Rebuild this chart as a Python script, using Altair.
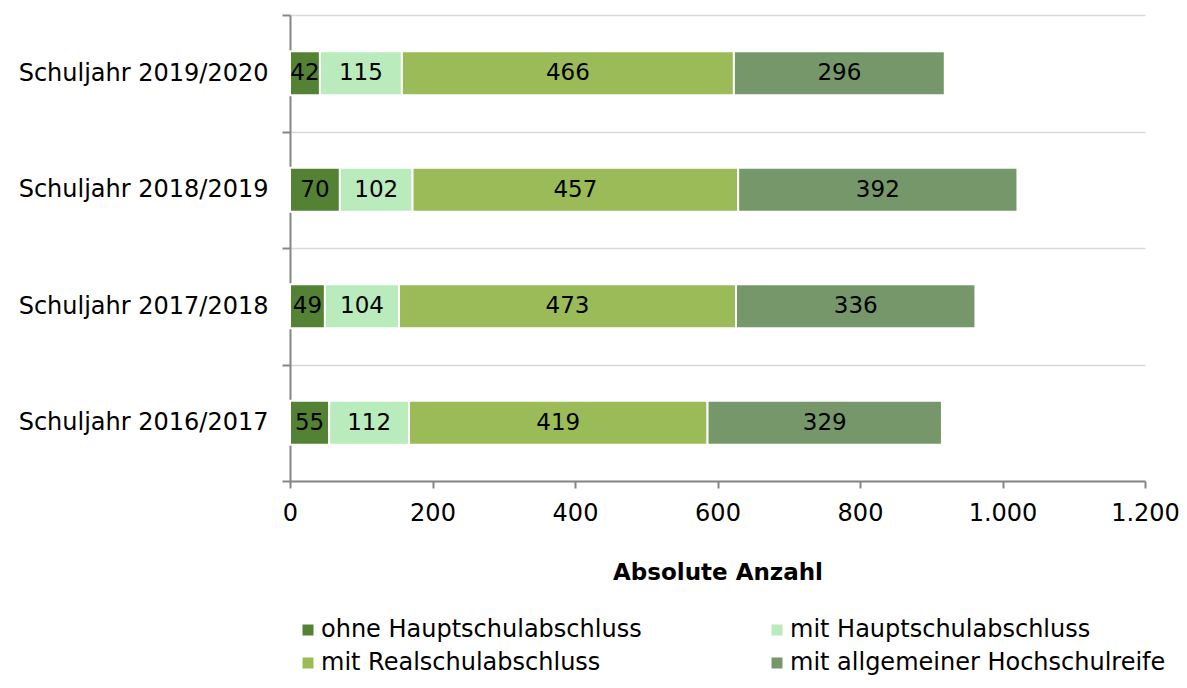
import altair as alt
import pandas as pd

years = ["Schuljahr 2019/2020", "Schuljahr 2018/2019", "Schuljahr 2017/2018", "Schuljahr 2016/2017"]
categories = ["ohne Hauptschulabschluss", "mit Hauptschulabschluss", "mit Realschulabschluss", "mit allgemeiner Hochschulreife"]
colors = ["#548235", "#BAEBBC", "#9BBB59", "#76976A"]

ohne = [42, 70, 49, 55]
haupt = [115, 102, 104, 112]
real = [466, 457, 473, 419]
hoch = [296, 392, 336, 329]

rows = []
for i, y in enumerate(years):
    for k, (cat, vals) in enumerate(zip(categories, [ohne, haupt, real, hoch])):
        rows.append({"year": y, "cat": cat, "value": vals[i], "order": k})
df = pd.DataFrame(rows)

# legend fills column by column: reorder so rows read left-to-right
legend_order = [categories[0], categories[2], categories[1], categories[3]]
legend_colors = [colors[0], colors[2], colors[1], colors[3]]

FONT = "DejaVu Sans"

base = alt.Chart(df).transform_stack(
    stack="value", as_=["x0", "x1"], groupby=["year"], sort=[alt.SortField("order")]
).transform_calculate(mid="(datum.x0 + datum.x1) / 2")

yenc = alt.Y("year:N", sort=years, title=None,
             scale=alt.Scale(paddingInner=0, paddingOuter=0),
             axis=alt.Axis(tickBand="extent", grid=True, gridColor="#D9D9D9", gridWidth=1.5,
                           domainColor="#868686", domainWidth=2, tickColor="#868686", tickWidth=2,
                           tickSize=8, labelPadding=14, labelFontSize=24, labelFont=FONT,
                           labelColor="black", labelLimit=400))

bars = base.mark_bar(size=44, stroke="white", strokeWidth=2).encode(
    x=alt.X("x0:Q", title="Absolute Anzahl",
            scale=alt.Scale(domain=[0, 1200]),
            axis=alt.Axis(values=[0, 200, 400, 600, 800, 1000, 1200], grid=False,
                          labelExpr="replace(format(datum.value, ','), ',', '.')",
                          labelFlush=False,
                          domainColor="#868686", domainWidth=2, tickColor="#868686",
                          tickWidth=2, tickSize=7, labelPadding=13, labelFontSize=24,
                          labelFont=FONT, labelColor="black", titleFont=FONT,
                          titleFontSize=23, titleFontWeight="bold", titlePadding=36,
                          titleColor="black")),
    x2="x1:Q",
    y=yenc,
    color=alt.Color("cat:N",
                    scale=alt.Scale(domain=legend_order, range=legend_colors),
                    legend=alt.Legend(title=None, orient="none", legendX=6, legendY=603,
                                      padding=0, columns=2, columnPadding=123, rowPadding=9,
                                      symbolType="square", symbolSize=121,
                                      symbolStrokeWidth=0, labelFontSize=24, labelFont=FONT,
                                      labelColor="black", labelOffset=1, labelLimit=500)),
)

labels = base.mark_text(fontSize=23, font=FONT, color="black").encode(
    x="mid:Q",
    y=alt.Y("year:N", sort=years),
    text=alt.Text("value:Q"),
)

chart = alt.layer(bars, labels).properties(
    width=855, height=466,
    padding={"left": 282, "top": 7, "right": 34, "bottom": 199},
    autosize=alt.AutoSizeParams(type="none"),
).configure_view(stroke=None)

chart.save("out.html", embed_options={"renderer": "svg", "actions": False})
